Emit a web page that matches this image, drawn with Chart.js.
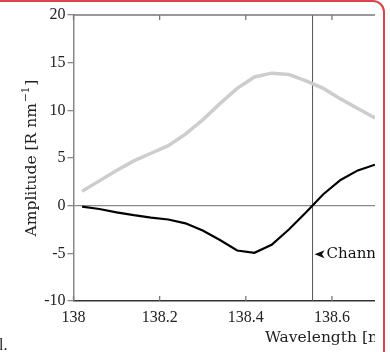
<!DOCTYPE html>
<html>
<head>
<meta charset="utf-8">
<script src="https://cdn.jsdelivr.net/npm/chart.js@4.4.0/dist/chart.umd.min.js"></script>
<style>
  html, body { margin: 0; padding: 0; background: #fff; overflow: hidden; }
  #card { position: absolute; left: -20px; top: 0; width: 405px; height: 400px;
          border: 2px solid #d9454b; border-radius: 0 12px 0 0; box-sizing: border-box; }
  #wrap { position: absolute; left: 0; top: 0; width: 375px; height: 352px; }
</style>
</head>
<body>
<div id="card"></div>
<div id="wrap"><canvas id="ampChart" width="375" height="352"></canvas></div>
<script>
var wavelengths = [138.02, 138.06, 138.10, 138.14, 138.18, 138.22, 138.26, 138.30, 138.34,
                   138.38, 138.42, 138.46, 138.50, 138.54, 138.58, 138.62, 138.66, 138.70];
var grayAmp  = [1.5, 2.6, 3.7, 4.7, 5.5, 6.3, 7.5, 9.0, 10.7,
                12.3, 13.5, 13.9, 13.75, 13.1, 12.3, 11.2, 10.2, 9.2];
var blackAmp = [-0.1, -0.35, -0.7, -1.0, -1.25, -1.45, -1.85, -2.6, -3.6,
                -4.7, -4.95, -4.1, -2.5, -0.7, 1.2, 2.7, 3.7, 4.3];
var xTicks = [138, 138.2, 138.4, 138.6];
var yTicks = [-10, -5, 0, 5, 10, 15, 20];
var channelX = 138.555;
var channelY = -5.1;
var serif = '"Liberation Serif", "DejaVu Serif", serif';
var wideSerif = '"DejaVu Serif", serif';

function pts(ys) {
  return wavelengths.map(function (x, i) { return { x: x, y: ys[i] }; });
}

var extras = {
  id: 'extras',
  beforeDatasetsDraw: function (chart) {
    var ctx = chart.ctx, a = chart.chartArea;
    var xs = chart.scales.x, ys = chart.scales.y;
    ctx.save();
    // zero line
    ctx.strokeStyle = '#8a8a8a';
    ctx.lineWidth = 1.3;
    var y0 = ys.getPixelForValue(0);
    ctx.beginPath(); ctx.moveTo(a.left, y0); ctx.lineTo(a.right, y0); ctx.stroke();
    // channel line
    ctx.strokeStyle = '#555';
    ctx.lineWidth = 1;
    var xc = xs.getPixelForValue(channelX);
    ctx.beginPath(); ctx.moveTo(xc, a.top); ctx.lineTo(xc, a.bottom); ctx.stroke();
    ctx.restore();
  },
  afterDraw: function (chart) {
    var ctx = chart.ctx, a = chart.chartArea;
    var xs = chart.scales.x, ys = chart.scales.y;
    ctx.save();
    // top frame line
    ctx.strokeStyle = '#777';
    ctx.lineWidth = 1.5;
    ctx.beginPath(); ctx.moveTo(a.left, a.top); ctx.lineTo(a.right, a.top); ctx.stroke();
    // inward x ticks top and bottom
    ctx.lineWidth = 1.3;
    xTicks.forEach(function (v) {
      var px = xs.getPixelForValue(v);
      ctx.strokeStyle = '#777';
      ctx.beginPath(); ctx.moveTo(px, a.top); ctx.lineTo(px, a.top + 5); ctx.stroke();
      ctx.beginPath(); ctx.moveTo(px, a.bottom); ctx.lineTo(px, a.bottom - 5); ctx.stroke();
    });
    // annotation
    var ax = xs.getPixelForValue(channelX) + 2, ay = ys.getPixelForValue(channelY);
    ctx.fillStyle = '#111';
    ctx.beginPath();
    ctx.moveTo(ax, ay);
    ctx.lineTo(ax + 10, ay - 4);
    ctx.lineTo(ax + 7.5, ay);
    ctx.lineTo(ax + 10, ay + 4);
    ctx.closePath(); ctx.fill();
    ctx.font = '15px ' + wideSerif;
    ctx.textBaseline = 'middle';
    ctx.textAlign = 'left';
    ctx.fillText('Channel', ax + 12, ay);
    // x title
    ctx.fillStyle = '#222';
    ctx.font = '15.5px ' + wideSerif;
    ctx.textBaseline = 'alphabetic';
    ctx.fillText('Wavelength [nm]', 265, 342);
    // y title, centred on the plot area
    var t1 = 'Amplitude [R nm';
    var w1 = ctx.measureText(t1).width;
    ctx.font = '10.5px ' + wideSerif;
    var w2 = ctx.measureText('\u22121').width;
    ctx.font = '15.5px ' + wideSerif;
    var w3 = ctx.measureText(']').width;
    var total = w1 + w2 + w3 + 2;
    ctx.translate(36, (a.top + a.bottom) / 2 + total / 2);
    ctx.rotate(-Math.PI / 2);
    ctx.fillText(t1, 0, 0);
    ctx.font = '10.5px ' + wideSerif;
    ctx.fillText('\u22121', w1 + 1, -7);
    ctx.font = '15.5px ' + wideSerif;
    ctx.fillText(']', w1 + w2 + 2, 0);
    ctx.restore();
    // clipped caption fragment
    ctx.save();
    ctx.font = '16px ' + serif;
    ctx.fillStyle = '#222';
    ctx.fillText('l.', -1, 350);
    ctx.restore();
  }
};

new Chart(document.getElementById('ampChart'), {
  type: 'line',
  data: {
    datasets: [
      { label: 'gray', data: pts(grayAmp), borderColor: '#cdcdcd', borderWidth: 3.5,
        pointRadius: 0, tension: 0, fill: false },
      { label: 'black', data: pts(blackAmp), borderColor: '#000', borderWidth: 2.2,
        pointRadius: 0, tension: 0, fill: false }
    ]
  },
  options: {
    responsive: false,
    animation: false,
    layout: { padding: { top: 15, right: 0, left: 0, bottom: 0 } },
    plugins: { legend: { display: false }, tooltip: { enabled: false } },
    scales: {
      x: {
        type: 'linear', min: 138, max: 138.7,
        afterBuildTicks: function (s) { s.ticks = xTicks.map(function (v) { return { value: v }; }); },
        afterFit: function (s) { s.height = 51; },
        grid: { display: false, drawTicks: false },
        border: { display: true, color: '#333', width: 1.5 },
        ticks: { color: '#222', padding: 7, maxRotation: 0,
                 font: { family: serif, size: 16 },
                 callback: function (v) { return String(Math.round(v * 10) / 10); } }
      },
      y: {
        min: -10, max: 20,
        afterBuildTicks: function (s) { s.ticks = yTicks.map(function (v) { return { value: v }; }); },
        afterFit: function (s) { s.width = 73.5; },
        grid: { drawOnChartArea: false, drawTicks: true, tickLength: 6, color: '#888', lineWidth: 1.3 },
        border: { display: true, color: '#888', width: 1.5 },
        ticks: { color: '#222', padding: 2, font: { family: serif, size: 16 } }
      }
    }
  },
  plugins: [extras]
});
</script>
</body>
</html>
